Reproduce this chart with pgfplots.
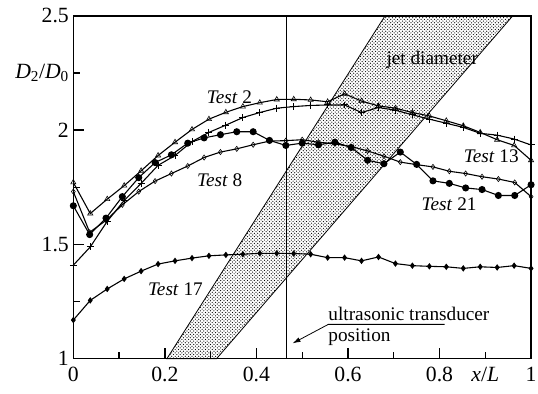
\documentclass[border=0pt]{standalone}
\usepackage{fontspec}
\setmainfont{Liberation Serif}
\usepackage{pgfplots}
\pgfplotsset{compat=1.18}
\usetikzlibrary{patterns,arrows.meta}

% fine staggered dots for the jet band
\pgfdeclarepatternformonly{fine dots}{\pgfqpoint{-0.8bp}{-0.8bp}}{\pgfqpoint{4.2bp}{4.2bp}}{\pgfqpoint{3.4bp}{3.4bp}}{%
  \pgfpathcircle{\pgfqpoint{0bp}{0bp}}{0.62bp}%
  \pgfpathcircle{\pgfqpoint{1.7bp}{1.7bp}}{0.62bp}%
  \pgfusepath{fill}}

\begin{document}
\begin{tikzpicture}
\begin{axis}[
  name=ax,
  scale only axis, width=462bp, height=346bp,
  xmin=0, xmax=1, ymin=1, ymax=2.5,
  clip=false,
  xtick={0,0.2,0.4,0.6,0.8,1},
  xticklabels={0,0.2,0.4,0.6,0.8,1},
  minor xtick={0.1,0.3,0.5,0.7},
  ytick={1,1.5,2,2.5},
  yticklabels={1,1.5,2,2.5},
  minor ytick={1.25,1.75},
  extra x ticks={0.9},
  extra x tick labels={\textit{x}/\textit{L}},
  extra x tick style={major tick length=7bp},
  extra y ticks={2.25},
  extra y tick labels={\textit{D}\textsubscript{2}/\textit{D}\textsubscript{0}},
  extra y tick style={major tick length=7bp},
  xtick pos=lower, ytick pos=left,
  tick align=inside,
  major tick length=11bp, minor tick length=7bp,
  every tick/.style={black, line width=1.3bp},
  axis line style={line width=1.6bp},
  tick label style={font=\fontsize{22}{24}\selectfont},
  xticklabel style={yshift=-5bp},
  yticklabel style={xshift=-1bp},
  /pgf/number format/assume math mode=true,
  every axis plot/.append style={black, line width=1.1bp},
]

% jet diameter band
\addplot[draw=black, line width=0.8bp, pattern=fine dots, mark=none]
  coordinates {(0.2045,1) (0.313,1) (0.96,2.5) (0.681,2.5)} -- cycle;

% ultrasonic transducer position
\addplot[line width=1.6bp, mark=none] coordinates {(0.466,1) (0.466,2.5)};

% Test 17
\addplot[mark=diamond*, mark size=2.4bp] table {
0      1.169
0.0370 1.255
0.0741 1.305
0.1111 1.349
0.1481 1.383
0.1852 1.414
0.2222 1.428
0.2593 1.440
0.2963 1.450
0.3333 1.454
0.3704 1.457
0.4074 1.461
0.4444 1.461
0.4815 1.460
0.5185 1.457
0.5556 1.442
0.5926 1.442
0.6296 1.428
0.6667 1.445
0.7037 1.416
0.7407 1.407
0.7778 1.404
0.8148 1.402
0.8519 1.395
0.8889 1.402
0.9259 1.399
0.9630 1.407
1      1.395
};

% Test 8
\addplot[mark=diamond, mark size=2.6bp, mark options={fill=white, line width=0.6bp}] table {
0      1.731
0.0357 1.553
0.0714 1.605
0.1071 1.673
0.1429 1.731
0.1786 1.777
0.2143 1.810
0.2500 1.843
0.2857 1.880
0.3214 1.904
0.3571 1.918
0.3929 1.936
0.4286 1.952
0.4643 1.954
0.5000 1.958
0.5357 1.947
0.5714 1.940
0.6071 1.928
0.6429 1.909
0.6786 1.886
0.7143 1.860
0.7500 1.849
0.7857 1.839
0.8214 1.820
0.8571 1.810
0.8929 1.796
0.9286 1.786
0.9643 1.771
1      1.709
};

% Test 21
\addplot[mark=*, mark size=3bp] table {
0      1.669
0.0357 1.543
0.0714 1.615
0.1071 1.709
0.1429 1.792
0.1786 1.858
0.2143 1.892
0.2500 1.943
0.2857 1.966
0.3214 1.980
0.3571 1.993
0.3929 1.993
0.4286 1.955
0.4643 1.933
0.5000 1.943
0.5357 1.936
0.5714 1.947
0.6071 1.924
0.6429 1.868
0.6786 1.853
0.7143 1.904
0.7500 1.850
0.7857 1.778
0.8214 1.767
0.8571 1.747
0.8929 1.740
0.9286 1.714
0.9643 1.714
1      1.761
};

% Test 13
\addplot[mark=+, mark size=3.5bp, mark options={line width=1bp}] table {
0      1.409
0.0370 1.489
0.0741 1.601
0.1111 1.692
0.1481 1.767
0.1852 1.846
0.2222 1.889
0.2593 1.950
0.2963 1.990
0.3333 2.022
0.3704 2.055
0.4074 2.077
0.4444 2.096
0.4815 2.103
0.5185 2.108
0.5556 2.110
0.5926 2.110
0.6296 2.077
0.6667 2.099
0.7037 2.087
0.7407 2.067
0.7778 2.048
0.8148 2.030
0.8519 2.012
0.8889 1.986
0.9259 1.978
0.9630 1.961
1      1.935
};

% Test 2
\addplot[mark=triangle, mark size=3bp, mark options={fill=white, line width=0.6bp}] table {
0      1.771
0.0370 1.635
0.0741 1.698
0.1111 1.757
0.1481 1.822
0.1852 1.889
0.2222 1.947
0.2593 2.003
0.2963 2.048
0.3333 2.078
0.3704 2.103
0.4074 2.120
0.4444 2.134
0.4815 2.135
0.5185 2.132
0.5556 2.124
0.5926 2.159
0.6296 2.127
0.6667 2.106
0.7037 2.096
0.7407 2.077
0.7778 2.062
0.8148 2.041
0.8519 2.019
0.8889 1.990
0.9259 1.958
0.9630 1.933
1      1.868
};

% curve labels
\begin{scope}[every node/.style={font=\fontsize{19.5}{22}\selectfont, inner sep=0pt}]
\node at (axis cs:0.341,2.143) {\textit{Test} 2};
\node at (axis cs:0.320,1.780) {\textit{Test} 8};
\node at (axis cs:0.913,1.884) {\textit{Test} 13};
\node at (axis cs:0.821,1.676) {\textit{Test} 21};
\node at (axis cs:0.223,1.305) {\textit{Test} 17};
\node at (axis cs:0.784,2.307) {jet diameter};
\node[anchor=base west] at (axis cs:0.557,1.169) {ultrasonic transducer};
\node[anchor=base west] at (axis cs:0.557,1.075) {position};
\end{scope}
\draw[line width=0.8bp, -{Latex[length=8bp,width=5bp]}]
  (axis cs:0.811,1.150) -- (axis cs:0.557,1.150) -- (axis cs:0.479,1.067);
\end{axis}
\pgfresetboundingbox
\path[use as bounding box] ([xshift=-74bp,yshift=-35bp]ax.south west) rectangle ([xshift=469bp,yshift=362bp]ax.south west);
\end{tikzpicture}
\end{document}
